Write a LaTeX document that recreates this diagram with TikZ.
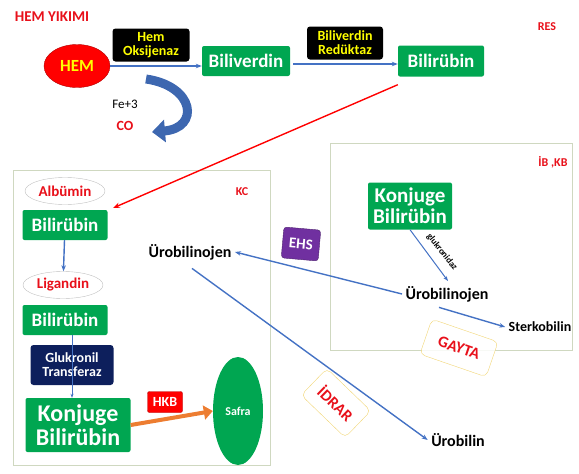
\documentclass[tikz,border=0pt]{standalone}
\usepackage{fontspec}
\setmainfont{Carlito}
\usetikzlibrary{arrows.meta,shapes.geometric}
\definecolor{hgreen}{HTML}{00A651}
\definecolor{hblue}{HTML}{4472C4}
\definecolor{hred}{HTML}{E8101A}
\definecolor{hyellow}{HTML}{FFFF00}
\definecolor{horange}{HTML}{ED7D31}
\definecolor{hpurple}{HTML}{7030A0}
\definecolor{hnavy}{HTML}{0D1F5C}
\definecolor{hframe}{HTML}{CFD8C0}
\definecolor{hgold}{HTML}{F2D675}
\newcommand{\fs}[1]{\fontsize{#1}{#1}\selectfont}
\begin{document}
\begin{tikzpicture}[x=1pt,y=-1pt,
        gbox/.style={fill=hgreen,rounded corners=2pt,text=white,
            font=\bfseries\fs{19},inner sep=0pt},
        enzyme/.style={fill=black,rounded corners=3pt,text=hyellow,
            font=\bfseries\fs{14},align=center,inner sep=0pt,
            minimum width=77pt,minimum height=33pt},
        carrier/.style={ellipse,draw=gray!50,text=hred,
            font=\bfseries\fs{15},inner sep=0pt,
            minimum width=80pt,minimum height=27pt},
        label/.style={font=\bfseries\fs{16}},
        site/.style={text=hred,font=\bfseries\fs{12}},
        route/.style={draw=hgold,fill=white,fill opacity=0.85,text opacity=1,
            rounded corners=5pt,text=hred,font=\bfseries\fs{16},
            minimum height=37pt},
        flow/.style={hblue,line width=1.4pt,-{Stealth[length=6pt]}}]
\useasboundingbox (0,0) rectangle (579,474);

% hem yikimi (RES)
\node[text=hred,font=\bfseries\fs{15}] (title) at (52,17) {HEM YIKIMI};
\node[site] (res) at (547,27) {RES};
\node[ellipse,fill=red,draw=red!70!black,text=hyellow,font=\bfseries\fs{17},
    minimum width=66pt,minimum height=43pt,inner sep=0pt] (hem) at (77,66) {HEM};
\node[gbox,minimum width=88pt,minimum height=30pt] (biv) at (246,61) {Biliverdin};
\node[gbox,minimum width=86pt,minimum height=31pt] (bir) at (441,61) {Bilirübin};
\draw[flow] (hem.east) -- (biv.west |- hem.east);
\draw[flow] (biv.east) ++(3,3) coordinate (b1) -- (bir.west |- b1);
\node[enzyme] (oks) at (151,45) {Hem\\Oksijenaz};
\node[enzyme,minimum width=76pt] (red) at (345,43) {Biliverdin\\Redüktaz};

% demir ve CO
\coordinate (c0) at (146,79);
\coordinate (c1) at (152,132);
\draw[hblue!90!black,line width=9pt,-{Triangle[length=13pt,width=22pt]}]
    (c0) .. controls (195,86) and (200,128) .. (c1);
\node[font=\fs{13}] (fe) at (125,104) {Fe+3};
\node[text=hred,font=\bfseries\fs{14}] (co) at (125,126) {CO};

% karaciger (KC)
\node[draw=hframe,line width=1pt,minimum width=257pt,minimum height=295pt,
    inner sep=0pt] (kc) at (141.5,317.5) {};
\node[site] (kclab) at (242,192) {KC};
\node[carrier] (alb) at (65,191) {Albümin};
\node[gbox,minimum width=85pt,minimum height=30pt] (bir1) at (65,225) {Bilirübin};
\node[carrier] (lig) at (63,285) {Ligandin};
\node[gbox,minimum width=85pt,minimum height=30pt] (bir2) at (65,320) {Bilirübin};
\node[fill=hnavy,rounded corners=3pt,text=white,font=\bfseries\fs{14},
    align=center,inner sep=0pt,minimum width=83pt,minimum height=40pt]
    (glt) at (72,365) {Glukronil\\Transferaz};
\node[gbox,font=\bfseries\fs{24},align=center,minimum width=105pt,
    minimum height=54pt] (kon1) at (78,425) {Konjuge\\Bilirübin};
\node[ellipse,fill=hgreen,text=white,font=\bfseries\fs{12},inner sep=0pt,
    minimum width=50pt,minimum height=108pt] (safra) at (238,411) {Safra};
\node[fill=red,draw=red!70!black,rounded corners=2pt,text=white,
    font=\bfseries\fs{14},minimum width=35pt,minimum height=21pt,inner sep=0pt]
    (hkb) at (165,402) {HKB};
\node[label] (uro1) at (190,252) {Ürobilinojen};
\draw[red,line width=1.4pt,-{Stealth[length=7pt]}] (bir.south west) ++(0,8)
    -- (113,208);
\draw[flow] (bir1) -- (lig);
\draw[hblue,line width=0.6pt,-{Stealth[length=4pt]}] (bir2.south -| glt) -- (kon1.north -| glt);
\draw[horange,line width=4pt,-{Triangle[length=9pt,width=14pt]}]
    (kon1.east) -- (safra.west);

% ince bagirsak, kalin bagirsak (IB, KB)
\node[draw=hframe,line width=1pt,minimum width=242pt,minimum height=207pt,
    inner sep=0pt] (ib) at (451,246.5) {};
\node[site] (iblab) at (553,162) {İB ,KB};
\node[gbox,font=\bfseries\fs{21},align=center,minimum width=84pt,
    minimum height=47pt] (kon2) at (410,206) {Konjuge\\Bilirübin};
\node[label] (uro2) at (447,294) {Ürobilinojen};
\node[font=\bfseries\fs{14}] (ster) at (540,327) {Sterkobilin};
\node[font=\bfseries\fs{16}] (urob) at (458,440) {Ürobilin};
\draw[hblue,line width=1pt,-{Stealth[length=5pt]}] (kon2.south) -- (448,281);
\node[font=\bfseries\fs{9},rotate=-52] (glk) at (442,252) {glukronidaz};
\draw[flow] (uro2.west) -- (uro1.east);
\draw[flow] (uro2.south) ++(-8,2) -- (ster.west);
\draw[flow] (uro1.south) ++(2,5) -- (urob.west);
\node[fill=hpurple,draw=hpurple!70!black,rounded corners=3pt,text=white,
    font=\bfseries\fs{15},rotate=-5,minimum width=37pt,minimum height=31pt,
    inner sep=0pt] (ehs) at (301,244) {EHS};
\node[route,rotate=-19,minimum width=70pt] (gayta) at (459,348) {GAYTA};
\node[route,rotate=-44,minimum width=61pt] (idrar) at (336,403) {İDRAR};
\end{tikzpicture}
\end{document}
